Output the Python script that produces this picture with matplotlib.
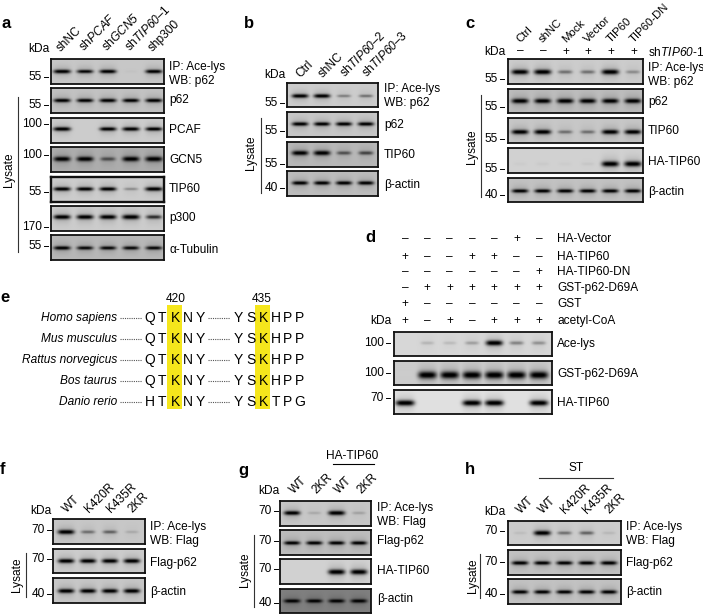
import matplotlib
matplotlib.use('Agg')
import matplotlib.pyplot as plt
import numpy as np

plt.rcParams['font.family'] = ['Liberation Sans', 'DejaVu Sans']
plt.rcParams['mathtext.fontset'] = 'custom'
plt.rcParams['mathtext.rm'] = 'Liberation Sans:italic'
plt.rcParams['mathtext.it'] = 'Liberation Sans:italic'

W, H = 703, 614
FS = 8.6

a_ace = [0.95, 0.75, 0.85, 0.02, 0.85]
a_p62 = [0.85, 0.8, 0.85, 0.8, 0.85]
a_pcaf = [1.0, 0.0, 0.85, 0.9, 0.8]
a_gcn5 = [0.85, 0.85, 0.45, 0.9, 0.95]
a_tip60 = [0.9, 0.85, 0.85, 0.25, 1.0]
a_p300 = [0.85, 0.85, 0.85, 1.0, 0.6]
a_tub = [0.85, 0.75, 0.75, 0.75, 0.75]

b_ace = [0.95, 0.95, 0.3, 0.35]
b_p62 = [0.9, 0.85, 0.85, 0.85]
b_tip60 = [0.95, 1.0, 0.45, 0.5]
b_actin = [0.85, 0.85, 0.85, 0.85]

c_ace = [0.95, 1.0, 0.35, 0.35, 1.0, 0.25]
c_p62 = [0.9, 0.85, 0.9, 0.85, 0.85, 0.85]
c_tip60 = [0.9, 0.95, 0.35, 0.35, 0.9, 0.85]
c_ha = [0.02, 0.03, 0.02, 0.04, 1.0, 1.0]
c_actin = [0.8, 0.8, 0.8, 0.8, 0.8, 0.8]

d_ace = [0.0, 0.12, 0.1, 0.2, 1.0, 0.3, 0.25]
d_gst = [0.0, 1.0, 1.0, 1.0, 1.0, 1.0, 1.0]
d_ha = [1.0, 0.0, 0.0, 1.0, 1.0, 0.0, 0.95]

f_ace = [1.0, 0.35, 0.4, 0.12]
f_flag = [0.9, 0.85, 0.85, 0.9]
f_actin = [0.9, 0.85, 0.85, 0.9]

g_ace = [0.85, 0.12, 1.0, 0.15]
g_flag = [0.8, 0.8, 0.8, 0.8]
g_ha = [0.0, 0.0, 1.0, 0.95]
g_actin = [0.9, 0.85, 0.85, 0.9]

h_ace = [0.06, 1.0, 0.35, 0.4, 0.08]
h_flag = [0.9, 0.85, 0.85, 0.85, 0.9]
h_actin = [0.85, 0.85, 0.8, 0.85, 0.85]

# alignment panel
species = ['Homo sapiens', 'Mus musculus', 'Rattus norvegicus', 'Bos taurus', 'Danio rerio']
left_res = ['QTKNY', 'QTKNY', 'QTKNY', 'QTKNY', 'HTKNY']
right_res = ['YSKHPP', 'YSKHPP', 'YSKHPP', 'YSKHPP', 'YSKTPG']

a_labels = ['shNC', r'sh$\mathrm{PCAF}$', r'sh$\mathrm{GCN5}$', r'sh$\mathrm{TIP60}$–1', 'shp300']
b_labels = ['Ctrl', 'shNC', r'sh$\mathrm{TIP60}$–2', r'sh$\mathrm{TIP60}$–3']
c_labels = ['Ctrl', 'shNC', 'Mock', 'Vector', 'TIP60', 'TIP60-DN']
c_signs = ['–', '–', '+', '+', '+', '+']
d_rows = ['HA-Vector', 'HA-TIP60', 'HA-TIP60-DN', 'GST-p62-D69A', 'GST', 'acetyl-CoA']
d_signs = ['–––––+–', '+––++––', '––––––+', '–++++++', '+––––––', '+–+–+++']
f_labels = ['WT', 'K420R', 'K435R', '2KR']
g_labels = ['WT', '2KR', 'WT', '2KR']
h_labels = ['WT', 'WT', 'K420R', 'K435R', '2KR']

fig = plt.figure(figsize=(W / 100, H / 100), dpi=100)
ax = fig.add_axes([0, 0, 1, 1])
ax.set_xlim(0, W)
ax.set_ylim(H, 0)
ax.axis('off')


def blot(x0, y0, x1, y1, lanes, vals, band_y, bg=0.8, w=0.38, sy=1.7, lw=1.3):
    # one gel strip, in its own axes with lane number on x and pixels on y
    ba = fig.add_axes([x0 / W, 1 - y1 / H, (x1 - x0) / W, (y1 - y0) / H])
    step = (lanes[1] - lanes[0]) / (len(vals) - 1)
    xl = ((x0 - lanes[0]) / step, (x1 - lanes[0]) / step)
    xs = np.linspace(xl[0], xl[1], int((x1 - x0) * 3))
    ys = np.linspace(y0, y1, int((y1 - y0) * 3))
    dark = np.zeros((len(ys), len(xs)))
    for i, v in enumerate(vals):
        shape = np.exp(-(np.abs(xs - i) / (w * (0.75 + 0.25 * v))) ** 4)
        core = np.exp(-((ys - band_y) / (sy * (0.65 + 0.5 * v))) ** 2)
        halo = 0.14 * np.exp(-((ys - band_y) / (sy * 3.5)) ** 2)
        dark = np.maximum(dark, min(1, v * 1.25) * np.outer(core + halo, shape))
    ba.imshow(bg * (1 - dark) + 0.04 * dark, cmap='gray', vmin=0, vmax=1, aspect='auto',
              extent=(xl[0], xl[1], y1, y0), interpolation='bilinear')
    ba.set_xlim(xl)
    ba.set_ylim(y1, y0)
    ba.set_xticks([])
    ba.set_yticks([])
    for s in ba.spines.values():
        s.set_linewidth(lw)
        s.set_color('#111111')
    return ba


def marker(y, txt, x_right):
    ax.text(x_right - 7, y, txt, ha='right', va='center', fontsize=FS)
    ax.plot([x_right - 5, x_right - 1], [y, y], color='k', lw=0.7)


def labels(x, items):
    for y, txt in items:
        ax.text(x, y, txt, ha='left', va='center', fontsize=FS)


def lane_names(names, lanes, y, shift=0.5, fs=FS):
    for name, xp in zip(names, np.linspace(lanes[0], lanes[1], len(names))):
        ax.text(xp + shift, y, name, rotation=45, rotation_mode='anchor', ha='left',
                va='baseline', fontsize=fs)


def lysate(x, y0, y1, tx, ty):
    ax.plot([x, x], [y0, y1], color='#333333', lw=0.8)
    ax.text(tx, ty, 'Lysate', rotation=90, ha='center', va='center', fontsize=FS)


for t, x, y in [('a', 1, 24), ('b', 244, 23), ('c', 465, 23), ('d', 365, 237),
                ('e', 0, 298), ('f', 0, 469), ('g', 238, 471), ('h', 465, 470)]:
    ax.text(x, y, t, fontsize=12, fontweight='bold', ha='left', va='center')

# panel a
la = (62, 154)
blot(51, 59, 164, 84, la, a_ace, 71.5, bg=0.78)
blot(51, 88, 164, 113, la, a_p62, 100.5, bg=0.76)
blot(51, 118, 164, 143, la, a_pcaf, 129, bg=0.8)
blot(51, 147, 164, 172, la, a_gcn5, 159, bg=0.68, sy=2.2)
blot(51, 177, 164, 202, la, a_tip60, 189, bg=0.8, lw=1.7)
blot(51, 206, 164, 231, la, a_p300, 217, bg=0.8, sy=2.0)
blot(51, 235, 164, 260, la, a_tub, 248, bg=0.72)
ax.text(28, 49, 'kDa', va='center', fontsize=FS)
lane_names(a_labels, la, 52, shift=-1)
for y, t in [(77, '55'), (105, '55'), (124, '100'), (155, '100'), (192, '55'), (227, '170'), (246, '55')]:
    marker(y, t, 49)
labels(169, [(67, 'IP: Ace-lys'), (81, 'WB: p62'), (100, 'p62'), (130, 'PCAF'),
             (160, 'GCN5'), (189, 'TIP60'), (218, 'p300'), (250, 'α-Tubulin')])
lysate(18, 97, 252, 9, 170)

# panel b
lb = (300, 366)
blot(287, 83, 378, 107, lb, b_ace, 96, bg=0.8)
blot(287, 112, 378, 137, lb, b_p62, 124, bg=0.78)
blot(287, 142, 378, 167, lb, b_tip60, 153, bg=0.72, sy=2.0)
blot(287, 171, 378, 196, lb, b_actin, 183, bg=0.74)
ax.text(264, 75, 'kDa', va='center', fontsize=FS)
lane_names(b_labels, lb, 78)
for y, t in [(103, '55'), (131, '55'), (164, '55'), (188, '40')]:
    marker(y, t, 285)
labels(384, [(89, 'IP: Ace-lys'), (103, 'WB: p62'), (125, 'p62'), (155, 'TIP60'), (185, 'β-actin')])
lysate(261, 118, 193, 251, 153)

# panel c
lc = (520, 633)
blot(508, 59, 643, 84, lc, c_ace, 72, bg=0.8, sy=2.1)
blot(508, 89, 643, 113, lc, c_p62, 101, bg=0.74, sy=2.1)
blot(508, 118, 643, 143, lc, c_tip60, 132, bg=0.78, sy=2.0)
blot(508, 148, 643, 173, lc, c_ha, 164, bg=0.82, sy=2.3)
blot(508, 178, 643, 202, lc, c_actin, 191, bg=0.76)
ax.text(484, 52, 'kDa', va='center', fontsize=FS)
lane_names(c_labels, lc, 43, fs=8.2)
for xp, s in zip(np.linspace(lc[0], lc[1], 6), c_signs):
    ax.text(xp + 0.5, 51.5, s, ha='center', va='center', fontsize=FS)
ax.text(648, 52, r'sh$\mathrm{TIP60}$-1', va='center', fontsize=FS)
for y, t in [(79, '55'), (107, '55'), (139, '55'), (169, '55'), (195, '40')]:
    marker(y, t, 505)
labels(648, [(68, 'IP: Ace-lys'), (82, 'WB: p62'), (102, 'p62'), (131, 'TIP60'),
             (162, 'HA-TIP60'), (192, 'β-actin')])
lysate(481, 95, 197, 472, 147)

# panel d
ld = (405, 539)
blot(394, 332, 552, 356, ld, d_ace, 343, bg=0.84, sy=2.2)
blot(394, 361, 552, 385, ld, d_gst, 375.5, bg=0.8, sy=3.0, w=0.42)
blot(394, 390, 552, 414, ld, d_ha, 403, bg=0.88, sy=2.4, w=0.42)
for j, (name, row) in enumerate(zip(d_rows, d_signs)):
    y = [239, 257, 272, 288, 304, 321][j]
    for xp, s in zip(np.linspace(ld[0], ld[1], 7), row):
        ax.text(xp, y, s, ha='center', va='center', fontsize=FS)
    ax.text(557, y, name, va='center', fontsize=FS)
ax.text(370, 321, 'kDa', va='center', fontsize=FS)
for y, t in [(343, '100'), (373, '100'), (398, '70')]:
    marker(y, t, 391)
labels(557, [(344, 'Ace-lys'), (374, 'GST-p62-D69A'), (403, 'HA-TIP60')])

# panel e
col_l = [150, 162, 175, 188, 200]
col_r = [238, 251, 263, 276, 288, 300]
for xr in (167, 255):
    ax.fill_between([xr, xr + 14.5], 305, 409, color='#f5e61c', lw=0, zorder=1)
ax.text(176, 299, '420', ha='center', va='center', fontsize=FS)
ax.text(262, 299, '435', ha='center', va='center', fontsize=FS)
for j, y in enumerate([318, 339, 360, 381, 402]):
    ax.text(117, y, species[j], ha='right', va='center', fontsize=FS, style='italic')
    ax.plot([120, 142], [y, y], color='#555555', lw=0.8, ls=(0, (1, 1)))
    ax.plot([208, 230], [y, y], color='#555555', lw=0.8, ls=(0, (1, 1)))
    for xp, c in zip(col_l, left_res[j]):
        ax.text(xp, y, c, ha='center', va='center', fontsize=10, zorder=3)
    for xp, c in zip(col_r, right_res[j]):
        ax.text(xp, y, c, ha='center', va='center', fontsize=10, zorder=3)

# panel f
lf = (66, 132)
blot(53, 519, 145, 544, lf, f_ace, 532, bg=0.78, sy=1.9)
blot(53, 549, 145, 573, lf, f_flag, 561, bg=0.8, sy=1.9)
blot(53, 578, 145, 603, lf, f_actin, 591, bg=0.78, sy=1.9)
ax.text(30, 511, 'kDa', va='center', fontsize=FS)
lane_names(f_labels, lf, 513)
for y, t in [(530, '70'), (559, '70'), (594, '40')]:
    marker(y, t, 52)
labels(150, [(527, 'IP: Ace-lys'), (541, 'WB: Flag'), (563, 'Flag-p62'), (592, 'β-actin')])
lysate(26, 553, 597, 17, 575)

# panel g
lg = (292, 359)
blot(280, 501, 371, 526, lg, g_ace, 513, bg=0.78, sy=1.9)
blot(280, 530, 371, 555, lg, g_flag, 543, bg=0.74, sy=1.7)
blot(280, 559, 371, 584, lg, g_ha, 572, bg=0.82, sy=2.2)
blot(280, 589, 371, 613, lg, g_actin, 601, bg=0.5, sy=1.7)
ax.text(258, 491, 'kDa', va='center', fontsize=FS)
lane_names(g_labels, lg, 494, shift=2)
for y, t in [(511, '70'), (541, '70'), (569, '70'), (603, '40')]:
    marker(y, t, 279)
labels(377, [(508, 'IP: Ace-lys'), (522, 'WB: Flag'), (541, 'Flag-p62'), (571, 'HA-TIP60'), (599, 'β-actin')])
lysate(254, 535, 607, 245, 570)
ax.text(352, 456, 'HA-TIP60', ha='center', va='center', fontsize=FS)
ax.plot([333, 374], [464, 464], color='k', lw=0.8)

# panel h
lh = (520, 609)
blot(508, 521, 621, 545, lh, h_ace, 533, bg=0.8, sy=2.0)
blot(508, 550, 621, 575, lh, h_flag, 563, bg=0.76, sy=1.7)
blot(508, 579, 621, 604, lh, h_actin, 592, bg=0.76, sy=1.7)
ax.text(484, 512, 'kDa', va='center', fontsize=FS)
lane_names(h_labels, lh, 514)
for y, t in [(531, '70'), (562, '70'), (594, '40')]:
    marker(y, t, 505)
labels(626, [(527, 'IP: Ace-lys'), (541, 'WB: Flag'), (563, 'Flag-p62'), (592, 'β-actin')])
lysate(480, 554, 598, 473, 576)
ax.text(576, 468, 'ST', ha='center', va='center', fontsize=FS)
ax.plot([539, 613], [478, 478], color='#333333', lw=0.8)

plt.savefig('out.png', dpi=100)
